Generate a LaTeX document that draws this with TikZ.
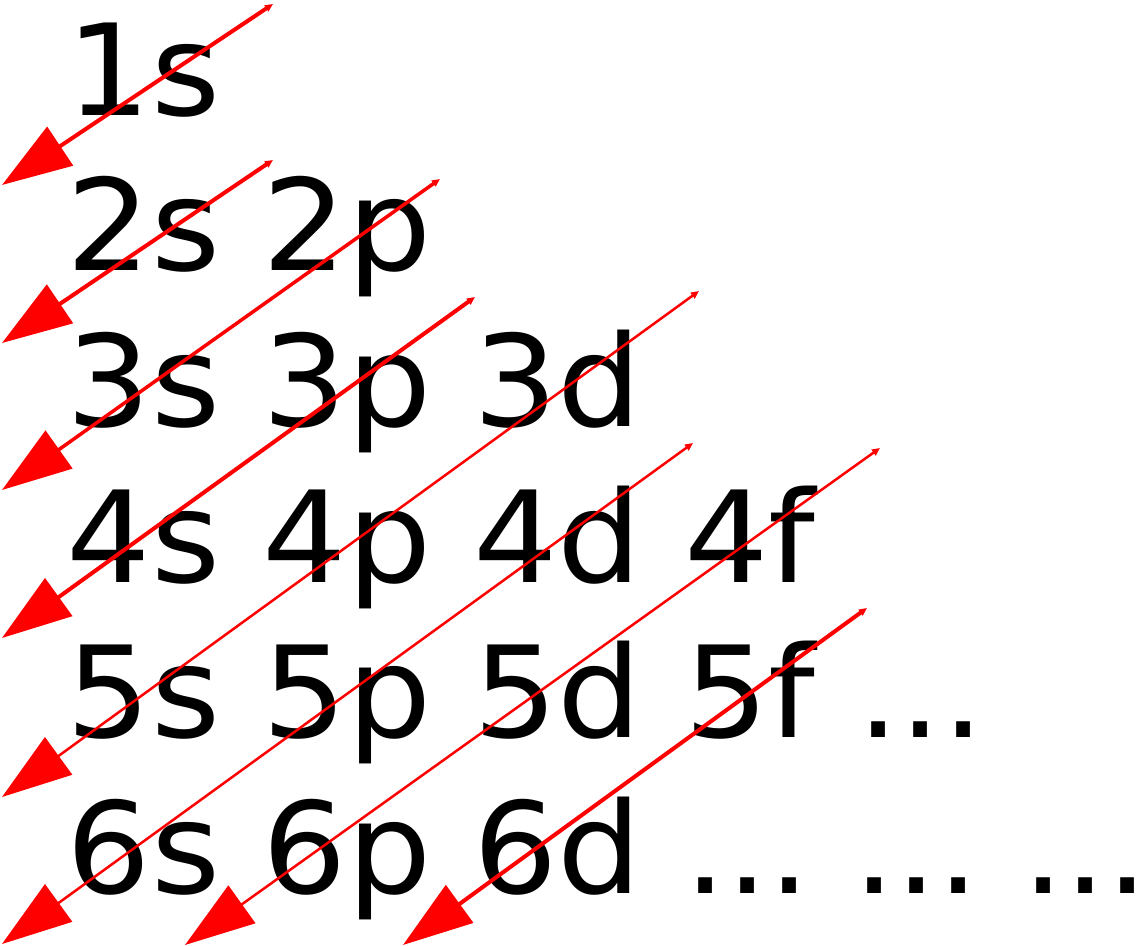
\documentclass[tikz,border=0pt]{standalone}
\usepackage{fontspec}
\setmainfont{DejaVu Sans}[FakeStretch=1.045]
\usetikzlibrary{arrows.meta}
\newcommand{\orbdots}{...}
\tikzstyle{orbitalrow}=[anchor=base west,inner sep=0pt,outer sep=0pt,font=\fontsize{63.5}{76}\selectfont\frenchspacing]
\tikzstyle{fillarrow} = [draw,red,{Triangle[length=4pt,width=3.5pt]}-{Triangle[length=35pt,width=23pt]}]

\begin{document}
\begin{tikzpicture}[x=0.5pt,y=-0.5pt]
    \useasboundingbox (0,0) rectangle (1142,946);

    % First we draw the rows of orbitals
    \foreach \pos/\name/\label in {{(67,115.5)/r1/1s}, {(67,271)/r2/2s 2p}, {(67,427)/r3/3s 3p 3d}, {(67,582.5)/r4/4s 4p 4d 4f}, {(67,737.5)/r5/5s 5p 5d 5f \orbdots}, {(67,893)/r6/6s 6p 6d \orbdots{} \orbdots{} \orbdots\kern-0.12em}}
        \node[orbitalrow] (\name) at \pos {\label};

    % Then the diagonal arrows, tail to tip
    \foreach \tailpos/\tippos/\name/\lw in {{(273,4)/(2,185)/a1/2pt}, {(273,160)/(2,343)/a2/2pt}, {(440,179)/(2,490)/a3/1.75pt}, {(475,297)/(2,638)/a4/2pt}, {(699,291)/(2,797)/a5/1.25pt}, {(693,443)/(2,944)/a6/1.25pt}, {(880,448)/(185,945)/a7/1.25pt}, {(867,608)/(403,945)/a8/2pt}}
        \path[fillarrow, line width=\lw] \tailpos coordinate (t\name) -- \tippos coordinate (h\name);

\end{tikzpicture}
\end{document}
